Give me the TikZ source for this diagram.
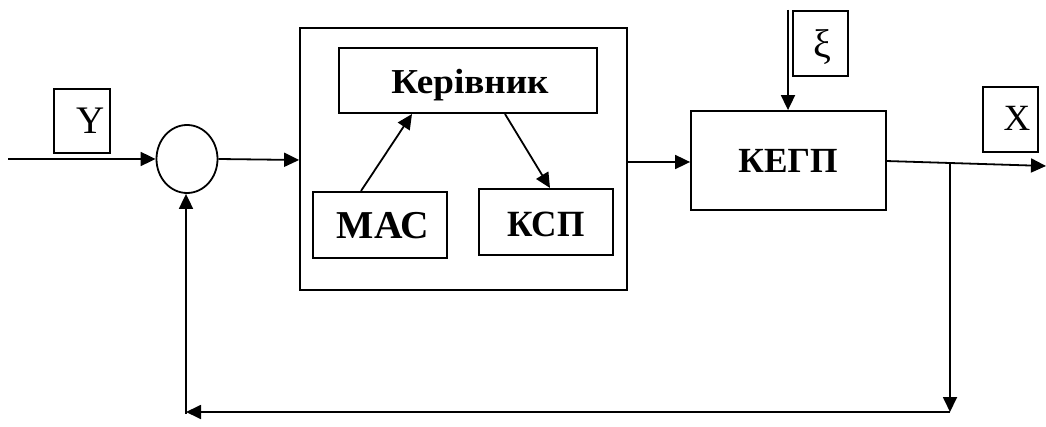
\documentclass[tikz,border=0pt]{standalone}
\usepackage{fontspec}
\setmainfont{Liberation Serif}
\usetikzlibrary{arrows.meta,shapes.geometric}
\begin{document}
\begin{tikzpicture}[x=1pt,y=-1pt,
  line width=1.8pt,
  box/.style={draw,rectangle,inner sep=0pt,line width=1.8pt},
  lbl/.style={anchor=base,inner sep=0pt},
  arr/.style={-{Triangle[length=15pt,width=14pt]}}]
\useasboundingbox (0,0) rectangle (1046,427);
% boxes
\node[box,minimum width=327pt,minimum height=262pt] (main) at (463.5,159) {};
\node[box,minimum width=258pt,minimum height=65pt] (ker) at (468,80.5) {};
\node[box,minimum width=134pt,minimum height=66pt] (mac) at (380,225) {};
\node[box,minimum width=134pt,minimum height=66pt] (ksp) at (546,222) {};
\node[box,minimum width=195pt,minimum height=99pt] (kegp) at (788.5,160.5) {};
\node[box,minimum width=56pt,minimum height=64pt] (ybox) at (82,121) {};
\node[box,minimum width=55pt,minimum height=65pt] (xbox) at (1010.5,119.5) {};
\node[box,minimum width=55pt,minimum height=65pt] (xibox) at (820.5,43.5) {};
\node[draw,ellipse,inner sep=0pt,minimum width=61pt,minimum height=68pt,line width=1.8pt] (sum) at (187,159) {};
% texts
\node[lbl,font=\fontsize{35}{40}\selectfont\bfseries] (kert) at (470,94) {\scalebox{1.06}[1]{Керівник}};
\node[lbl,font=\fontsize{39.5}{44}\selectfont\bfseries] (mact) at (383,239) {МАС};
\node[lbl,font=\fontsize{37}{42}\selectfont\bfseries] (kspt) at (546,237) {\scalebox{0.95}[1]{КСП}};
\node[lbl,font=\fontsize{35.3}{40}\selectfont\bfseries] (kegpt) at (788,173) {КЕГП};
\node[lbl,font=\fontsize{39}{44}\selectfont] (yt) at (91,134) {Y};
\node[lbl,font=\fontsize{37}{42}\selectfont] (xt) at (1017,131) {X};
\node[lbl,font=\fontsize{40}{44}\selectfont] (xit) at (822,58) {ξ};
% coordinates
\coordinate (in) at (8,159);
\coordinate (xitop) at (788,10);
\coordinate (kout) at (886,161);
\coordinate (out) at (1046,166);
\coordinate (br) at (950,163);
\coordinate (brd) at (950,412);
\coordinate (fbl) at (186,414);
\coordinate (fbtip) at (186,412);
\coordinate (macs) at (361,191);
\coordinate (kere) at (412,114);
\coordinate (kers) at (505,114);
\coordinate (kspe) at (550,188);
% connectors
\draw[arr] (in) -- (sum.west);
\draw[arr] (sum.east) -- (main.west |- 0,160);
\draw[arr] (main.east |- 0,162) -- (kegp.west |- 0,162);
\draw[arr] (xitop) -- (xitop |- kegp.north);
\draw[arr] (kout) -- (out);
\draw[arr] (br) -- (brd);
\draw[arr] (brd) -- (fbtip);
\draw[arr] (fbl) -- (fbl |- sum.south);
\draw[arr] (macs) -- (kere);
\draw[arr] (kers) -- (kspe);
\end{tikzpicture}
\end{document}
